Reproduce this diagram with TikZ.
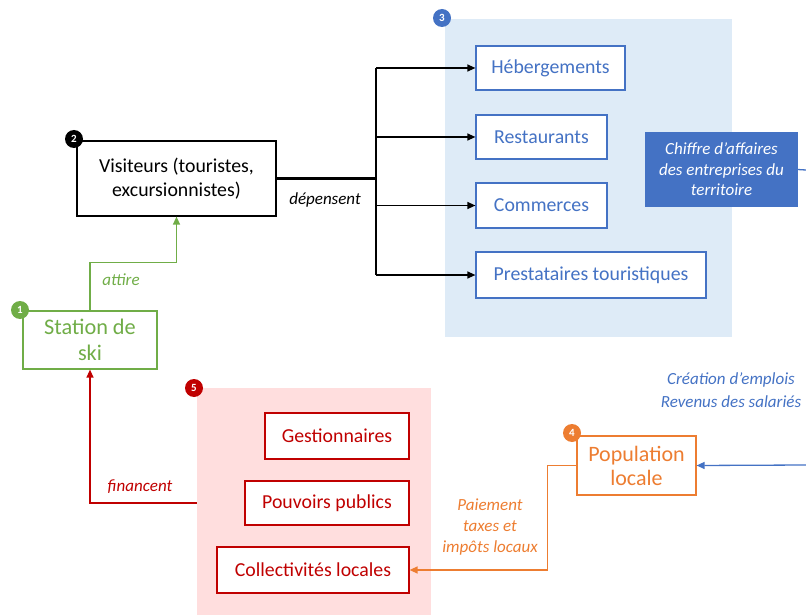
\documentclass[tikz,border=0pt]{standalone}
\usepackage{fontspec}
\setmainfont{Carlito}
\usepackage{tikz}
\usetikzlibrary{arrows.meta}

\definecolor{vert}{HTML}{70AD47}
\definecolor{bleu}{HTML}{4472C4}
\definecolor{orangeT}{HTML}{ED7D31}
\definecolor{rouge}{HTML}{C00000}
\definecolor{bleuclair}{HTML}{DEEBF7}
\definecolor{roseclair}{HTML}{FFDEDE}

\begin{document}
\begin{tikzpicture}[x=1pt,y=-1pt,
                    thick,
                    bx/.style n args={3}{draw=#1,text=#1,fill=white,
                    line width=1.2pt,
                    minimum width=#2pt,
                    minimum height=#3pt,
                    inner sep=0pt,align=center,
                    font=\fontsize{19.8}{24}\selectfont},
                    zone/.style n args={3}{fill=#1,
                    minimum width=#2pt,
                    minimum height=#3pt,inner sep=0pt},
                    badge/.style={circle,fill=#1,text=white,minimum size=18pt,
                    inner sep=0pt,font=\fontsize{11}{11}\selectfont\bfseries},
                    lbl/.style={text=#1,inner sep=0pt,align=center,
                    font=\fontsize{17}{21}\selectfont\itshape},
                    fl/.style={line width=1.3pt,-{Triangle[length=8pt,width=7pt]}}]
    \useasboundingbox (0,0) rectangle (806,615);
    \node[zone={bleuclair}{287}{318}](z3) at (588.5,178) {};
    \node[zone={roseclair}{234}{227}](z5) at (314,501.5) {};

    \node[bx={black}{199}{75}](vis) at (176.5,178.5) {Visiteurs (touristes,\\excursionnistes)};
    \node[bx={vert}{134}{58},font=\fontsize{22.3}{26}\selectfont](stat) at (90,340) {Station de\\ski};
    \node[bx={bleu}{149}{44}](heb) at (550.5,68) {Hébergements};
    \node[bx={bleu}{131}{44}](rest) at (541.5,137) {Restaurants};
    \node[bx={bleu}{131}{45}](comm) at (541.5,205.5) {Commerces};
    \node[bx={bleu}{230}{46}](prest) at (591,275) {Prestataires touristiques};
    \node[bx={bleu}{151}{73},fill=bleu,text=white,
          font=\fontsize{17}{20.5}\selectfont\itshape](chif) at (721.5,169.5) {Chiffre d’affaires\\des entreprises du\\territoire};
    \node[bx={orangeT}{119}{59},font=\fontsize{22}{24}\selectfont](pop) at (636.5,465.5) {Population\\locale};
    \node[bx={rouge}{144}{46}](gest) at (337,436) {Gestionnaires};
    \node[bx={rouge}{164}{44}](pouv) at (327,503) {Pouvoirs publics};
    \node[bx={rouge}{192}{46}](coll) at (313,570) {Collectivités locales};

    \node[badge=vert](n1) at (20,310) {1};
    \node[badge=black](n2) at (74,139) {2};
    \node[badge=bleu](n3) at (442,18) {3};
    \node[badge=orangeT](n4) at (572,433) {4};
    \node[badge=rouge](n5) at (194,388) {5};

    \draw[fl,vert] (stat.north) -- ++(0,-48) -| (vis.south);
    \node[lbl=vert](att) at (121,280) {attire};

    \coordinate (tronc) at (376,178.5);
    \draw[line width=2.5pt] (vis.east) -- (tronc);
    \draw[line width=1.3pt] (tronc |- heb.west) -- (tronc |- prest.west);
    \foreach \b in {heb,rest,comm,prest}
        \draw[fl] (tronc |- \b.west) -- (\b.west);
    \node[lbl=black](dep) at (325,200) {dépensent};

    \coordinate (sortieA) at (806,170);
    \coordinate (sortieB) at (806,465);
    \draw[line width=1.3pt,bleu] (chif.east) -- (sortieA);
    \draw[fl,bleu] (sortieB) -- (pop.east);
    \node[lbl=bleu,font=\fontsize{17}{23}\selectfont\itshape](emp) at (731,390) {Création d’emplois\\Revenus des salariés};

    \draw[fl,orangeT] (pop.west) -- ++(-29,0) |- (coll.east);
    \node[lbl=orangeT](pai) at (490,527) {Paiement\\taxes et\\impôts locaux};

    \draw[fl,rouge] (z5.west |- pouv.west) -| (stat.south);
    \node[lbl=rouge](fin) at (140,487) {financent};
\end{tikzpicture}
\end{document}
